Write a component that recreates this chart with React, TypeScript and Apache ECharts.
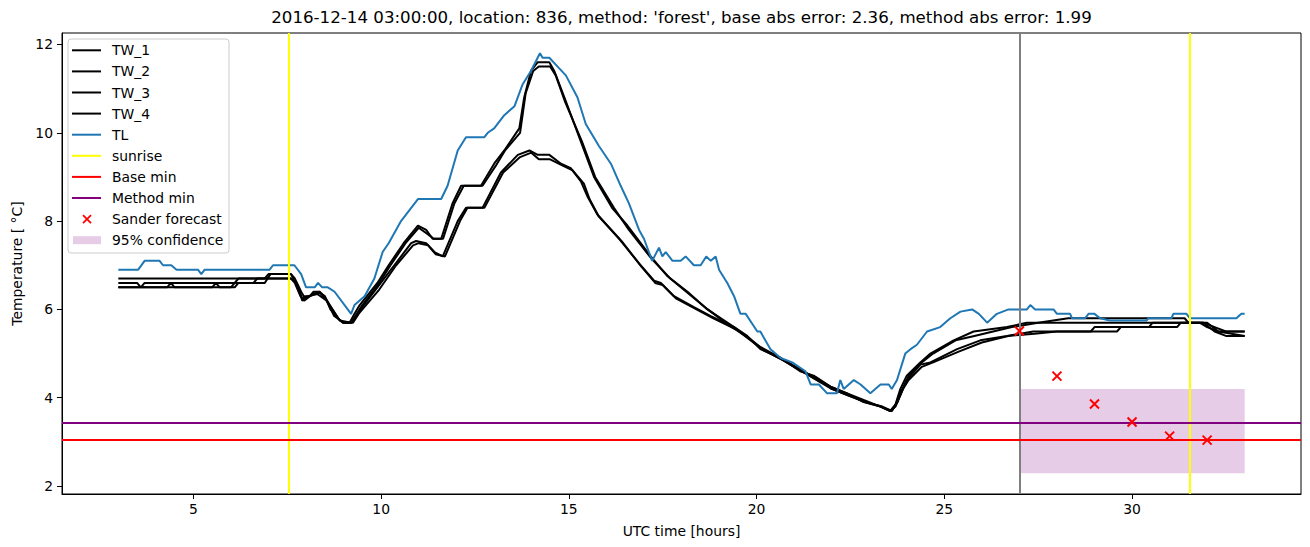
import React, { useEffect, useRef } from "react";
import * as echarts from "echarts";

// ---------- data (hours UTC, temperature °C) ----------
const TL: [number, number][] = [
  [3.0, 6.9], [3.53, 6.9], [3.7, 7.1], [4.1, 7.1], [4.19, 7.0], [4.41, 7.0], [4.55, 6.9], [5.12, 6.9], [5.21, 6.8], [5.3, 6.9],
  [7.03, 6.9], [7.12, 7.0], [7.69, 7.0], [7.87, 6.8], [8.0, 6.5], [8.23, 6.5], [8.32, 6.6], [8.43, 6.5], [8.58, 6.5], [8.76, 6.4],
  [9.2, 5.9], [9.29, 6.1], [9.56, 6.3], [9.82, 6.7], [10.04, 7.3], [10.2, 7.5], [10.53, 8.0], [10.98, 8.5], [11.6, 8.5], [11.77, 8.8],
  [12.04, 9.6], [12.26, 9.9], [12.75, 9.9], [12.84, 10.0], [13.01, 10.1], [13.28, 10.4], [13.55, 10.6], [13.77, 11.1], [13.99, 11.4],
  [14.23, 11.8], [14.3, 11.7], [14.48, 11.7], [14.7, 11.5], [14.92, 11.3], [15.23, 10.8], [15.45, 10.2], [15.8, 9.7], [16.12, 9.3],
  [16.38, 8.8], [16.6, 8.4], [16.87, 7.8], [17.0, 7.6], [17.22, 7.1], [17.4, 7.4], [17.49, 7.2], [17.58, 7.3], [17.76, 7.1], [17.98, 7.1],
  [18.11, 7.2], [18.33, 7.0], [18.51, 7.0], [18.66, 7.2], [18.78, 7.1], [18.91, 7.2], [19.0, 6.9], [19.22, 6.6], [19.4, 6.3], [19.57, 5.9],
  [19.71, 5.9], [20.02, 5.5], [20.1, 5.5], [20.37, 5.1], [20.64, 4.9], [20.95, 4.8], [21.3, 4.6], [21.44, 4.3], [21.66, 4.3], [21.88, 4.1],
  [22.14, 4.1], [22.23, 4.4], [22.32, 4.2], [22.59, 4.4], [22.77, 4.3], [23.03, 4.1], [23.3, 4.3], [23.52, 4.3], [23.6, 4.2], [23.74, 4.4],
  [23.96, 5.0], [24.1, 5.1], [24.27, 5.2], [24.54, 5.5], [24.89, 5.6], [25.16, 5.8], [25.43, 5.95], [25.74, 6.0], [25.92, 5.9], [26.14, 5.7],
  [26.4, 5.9], [26.71, 6.0], [27.2, 6.0], [27.29, 6.1], [27.42, 6.0], [27.91, 6.0], [28.0, 5.9], [28.35, 5.9], [28.4, 5.8], [28.75, 5.8],
  [28.84, 5.9], [29.0, 5.9], [29.15, 5.8], [29.41, 5.75], [30.39, 5.75], [30.43, 5.8], [31.05, 5.8], [31.1, 5.9], [31.45, 5.9], [31.54, 5.8],
  [32.78, 5.8], [32.91, 5.9], [33.0, 5.9],
];

const TW_1: [number, number][] = [
  [3, 6.7], [6.9, 6.7], [7.0, 6.8], [7.6, 6.8], [7.7, 6.7], [7.87, 6.4], [7.94, 6.3], [8.1, 6.3], [8.2, 6.4], [8.36, 6.4], [8.49, 6.3],
  [8.63, 6.1], [8.85, 5.8], [8.98, 5.7], [9.16, 5.7], [9.29, 5.9], [9.43, 6.1], [9.9, 6.6], [10.2, 7.0], [10.6, 7.5], [10.98, 7.9],
  [11.2, 7.8], [11.37, 7.6], [11.6, 7.6], [11.9, 8.4], [12.13, 8.8], [12.66, 8.8], [13.01, 9.3], [13.28, 9.6], [13.68, 10.1], [13.81, 10.8],
  [13.99, 11.4], [14.17, 11.6], [14.48, 11.6], [14.61, 11.4], [14.88, 10.8], [15.32, 9.8], [15.67, 9.0], [16.15, 8.3], [16.56, 7.9],
  [17.18, 7.2], [17.63, 6.75], [18.16, 6.4], [18.69, 6.0], [19.22, 5.7], [19.75, 5.4], [20.1, 5.1], [20.64, 4.9], [21.16, 4.6], [21.52, 4.5],
  [21.97, 4.25], [22.41, 4.1], [22.85, 3.95], [23.3, 3.8], [23.56, 3.7], [23.7, 3.85], [23.83, 4.2], [24.0, 4.5], [24.36, 4.8], [24.63, 5.0],
  [25.25, 5.3], [25.78, 5.5], [26.67, 5.6], [27.2, 5.7], [31.8, 5.7], [32.0, 5.6], [32.3, 5.5], [33, 5.5],
];

const TW_2: [number, number][] = [
  [3, 6.6], [3.5, 6.6], [3.6, 6.5], [3.7, 6.6], [6.1, 6.6], [6.2, 6.7], [7.6, 6.7], [7.75, 6.6], [7.9, 6.2], [8.1, 6.3], [8.36, 6.4],
  [8.55, 6.2], [8.9, 5.75], [9.2, 5.7], [9.35, 5.9], [9.5, 6.1], [9.95, 6.6], [10.25, 7.0], [10.65, 7.5], [11.0, 7.85], [11.25, 7.7],
  [11.4, 7.6], [11.65, 7.6], [11.95, 8.4], [12.2, 8.8], [12.7, 8.8], [13.05, 9.25], [13.3, 9.6], [13.7, 10.0], [13.85, 10.9], [14.05, 11.4],
  [14.2, 11.5], [14.5, 11.5], [14.65, 11.3], [14.9, 10.7], [15.35, 9.8], [15.7, 9.0], [16.2, 8.3], [16.6, 7.8], [17.2, 7.15], [17.7, 6.7],
  [18.2, 6.35], [18.7, 6.0], [19.25, 5.65], [19.8, 5.35], [20.15, 5.1], [20.7, 4.85], [21.2, 4.6], [21.6, 4.45], [22.0, 4.2], [22.45, 4.05],
  [22.9, 3.9], [23.3, 3.8], [23.6, 3.7], [23.75, 3.9], [23.9, 4.2], [24.05, 4.5], [24.4, 4.8], [24.7, 5.0], [25.3, 5.3], [25.8, 5.4],
  [26.3, 5.5], [26.8, 5.6], [27.5, 5.7], [28.3, 5.8], [31.4, 5.8], [31.5, 5.7], [32.0, 5.7], [32.3, 5.5], [33, 5.4],
];

const TW_3: [number, number][] = [
  [3, 6.5], [5.5, 6.5], [5.6, 6.6], [5.7, 6.5], [6.1, 6.5], [6.2, 6.6], [6.6, 6.6], [6.7, 6.7], [7.6, 6.7], [7.7, 6.6], [7.85, 6.3],
  [7.95, 6.2], [8.1, 6.3], [8.3, 6.4], [8.5, 6.3], [8.65, 6.0], [8.9, 5.75], [9.0, 5.7], [9.2, 5.7], [9.35, 5.85], [9.45, 6.0], [9.9, 6.5],
  [10.35, 7.0], [10.8, 7.5], [10.93, 7.55], [11.2, 7.5], [11.42, 7.3], [11.64, 7.2], [12.04, 8.0], [12.26, 8.3], [12.7, 8.3], [13.19, 9.1],
  [13.64, 9.5], [13.95, 9.6], [14.17, 9.5], [14.48, 9.5], [14.79, 9.3], [15.05, 9.2], [15.32, 8.9], [15.5, 8.55], [15.76, 8.15], [16.34, 7.6],
  [16.91, 7.0], [17.27, 6.65], [17.45, 6.6], [17.8, 6.3], [18.33, 6.05], [18.78, 5.85], [19.4, 5.6], [20.1, 5.15], [20.64, 4.9], [21.16, 4.65],
  [21.52, 4.45], [21.97, 4.25], [22.41, 4.1], [22.85, 3.9], [23.3, 3.8], [23.56, 3.7], [23.7, 3.8], [23.85, 4.15], [24.0, 4.4], [24.36, 4.75],
  [24.63, 4.8], [25.34, 5.1], [25.96, 5.3], [26.67, 5.4], [27.37, 5.5], [28.9, 5.5], [29.0, 5.6], [30.45, 5.6], [30.55, 5.7], [31.9, 5.7],
  [32.2, 5.6], [32.5, 5.5], [33, 5.5],
];

const TW_4: [number, number][] = [
  [3, 6.5], [4.3, 6.5], [4.4, 6.6], [4.5, 6.5], [6.0, 6.5], [6.1, 6.6], [6.9, 6.6], [7.05, 6.8], [7.6, 6.8], [7.72, 6.6], [7.9, 6.25],
  [8.05, 6.3], [8.3, 6.35], [8.55, 6.2], [8.75, 5.85], [9.0, 5.7], [9.25, 5.7], [9.4, 5.9], [9.5, 6.0], [9.95, 6.45], [10.4, 7.0],
  [10.85, 7.45], [11.0, 7.5], [11.25, 7.45], [11.45, 7.25], [11.7, 7.2], [12.1, 8.0], [12.3, 8.3], [12.75, 8.3], [13.25, 9.1], [13.7, 9.45],
  [14.0, 9.55], [14.2, 9.4], [14.5, 9.4], [14.85, 9.25], [15.1, 9.15], [15.4, 8.85], [15.55, 8.5], [15.8, 8.1], [16.4, 7.55], [16.95, 6.95],
  [17.3, 6.6], [17.5, 6.55], [17.85, 6.25], [18.4, 6.0], [18.85, 5.8], [19.45, 5.55], [20.15, 5.1], [20.7, 4.85], [21.2, 4.6], [21.6, 4.4],
  [22.0, 4.2], [22.45, 4.05], [22.9, 3.9], [23.35, 3.8], [23.6, 3.7], [23.75, 3.9], [23.9, 4.2], [24.05, 4.4], [24.4, 4.7], [24.7, 4.8],
  [25.4, 5.05], [26.0, 5.25], [26.7, 5.4], [27.4, 5.45], [28.0, 5.5], [29.6, 5.5], [29.7, 5.6], [31.2, 5.6], [31.3, 5.7], [31.9, 5.7],
  [32.2, 5.5], [32.5, 5.4], [33, 5.4],
];

const sunriseHours = [7.55, 31.55];
const forecastStartHour = 27.0;
const baseMin = 3.04;
const methodMin = 3.43;
const forecastHours = [27, 28, 29, 30, 31, 32];
const forecastTemps = [5.51, 4.49, 3.86, 3.45, 3.13, 3.04];
const confidenceHours = [27.0, 33.0];
const confidenceTemps = [2.29, 4.2];

const xTicks = [5, 10, 15, 20, 25, 30];
const yTicks = [2, 4, 6, 8, 10, 12];

const titleText =
  "2016-12-14 03:00:00, location: 836, method: 'forest', base abs error: 2.36, method abs error: 1.99";

const FONT = "DejaVu Sans";

const legendItems: { label: string; kind: string; color: string }[] = [
  { label: "TW_1", kind: "line", color: "#000000" },
  { label: "TW_2", kind: "line", color: "#000000" },
  { label: "TW_3", kind: "line", color: "#000000" },
  { label: "TW_4", kind: "line", color: "#000000" },
  { label: "TL", kind: "line", color: "#1f77b4" },
  { label: "sunrise", kind: "line", color: "#ffff00" },
  { label: "Base min", kind: "line", color: "#ff0000" },
  { label: "Method min", kind: "line", color: "#800080" },
  { label: "Sander forecast", kind: "cross", color: "#ff0000" },
  { label: "95% confidence", kind: "patch", color: "rgba(128,0,128,0.2)" },
];

function buildLegend() {
  const children: any[] = [];
  const bx = 68, by = 39, bw = 161, bh = 214;
  children.push({
    type: "rect",
    shape: { x: bx, y: by, width: bw, height: bh, r: 3 },
    style: { fill: "rgba(255,255,255,0.8)", stroke: "#cccccc", lineWidth: 1 },
  });
  legendItems.forEach((it, i) => {
    const cy = 50.3 + i * 21.1;
    if (it.kind === "line") {
      children.push({
        type: "line",
        shape: { x1: 72, y1: cy, x2: 101, y2: cy },
        style: { stroke: it.color, lineWidth: 2 },
      });
    } else if (it.kind === "cross") {
      const cx = 87, s = 4;
      children.push({ type: "line", shape: { x1: cx - s, y1: cy - s, x2: cx + s, y2: cy + s }, style: { stroke: it.color, lineWidth: 1.8 } });
      children.push({ type: "line", shape: { x1: cx - s, y1: cy + s, x2: cx + s, y2: cy - s }, style: { stroke: it.color, lineWidth: 1.8 } });
    } else {
      children.push({
        type: "rect",
        shape: { x: 73, y: cy - 4, width: 28, height: 8 },
        style: { fill: it.color },
      });
    }
    children.push({
      type: "text",
      x: 112,
      y: cy,
      style: { text: it.label, font: `13.9px "${FONT}"`, fill: "#000", verticalAlign: "middle", textAlign: "left" },
    });
  });
  return { type: "group", z: 100, children };
}

export default function App() {
  const ref = useRef<HTMLDivElement>(null);
  useEffect(() => {
    if (!ref.current) return;
    const chart = echarts.init(ref.current, null, { renderer: "svg" });
    const twLine = (name: string, data: [number, number][]) => ({
      name,
      type: "line",
      data,
      showSymbol: false,
      symbol: "none",
      z: 2,
      lineStyle: { color: "#000000", width: 2 },
    });
    const option: any = {
      animation: false,
      backgroundColor: "#ffffff",
      textStyle: { fontFamily: FONT },
      grid: { left: 62, right: 9, top: 33, bottom: 53, show: true, borderColor: "#000", borderWidth: 1, backgroundColor: "transparent" },
      xAxis: {
        type: "value",
        min: 1.5,
        max: 34.5,
        name: "UTC time [hours]",
        nameLocation: "middle",
        nameGap: 30,
        nameTextStyle: { color: "#000", fontSize: 13.9, fontFamily: FONT },
        axisLine: { show: true, lineStyle: { color: "#000", width: 1 } },
        axisTick: { show: true, length: 5, customValues: xTicks, lineStyle: { color: "#000" } },
        axisLabel: { customValues: xTicks, color: "#000", fontSize: 13.9, fontFamily: FONT, margin: 8 },
        splitLine: { show: false },
      },
      yAxis: {
        type: "value",
        min: 1.82,
        max: 12.26,
        name: "Temperature [ °C]",
        nameLocation: "middle",
        nameGap: 36,
        nameTextStyle: { color: "#000", fontSize: 13.9, fontFamily: FONT },
        axisLine: { show: true, lineStyle: { color: "#000", width: 1 } },
        axisTick: { show: true, length: 5, customValues: yTicks, lineStyle: { color: "#000" } },
        axisLabel: { customValues: yTicks, color: "#000", fontSize: 13.9, fontFamily: FONT, margin: 9 },
        splitLine: { show: false },
      },
      series: [
        {
          name: "confidence",
          type: "line",
          data: [],
          z: 1,
          markArea: {
            silent: true,
            itemStyle: { color: "rgba(128,0,128,0.2)" },
            data: [[
              { xAxis: confidenceHours[0], yAxis: confidenceTemps[0] },
              { xAxis: confidenceHours[1], yAxis: confidenceTemps[1] },
            ]],
          },
        },
        twLine("TW_1", TW_1),
        twLine("TW_2", TW_2),
        twLine("TW_3", TW_3),
        twLine("TW_4", TW_4),
        {
          name: "TL",
          type: "line",
          data: TL,
          showSymbol: false,
          symbol: "none",
          z: 3,
          lineStyle: { color: "#1f77b4", width: 2 },
        },
        {
          name: "refs",
          type: "line",
          data: [],
          z: 4,
          markLine: {
            silent: true,
            symbol: "none",
            label: { show: false },
            emphasis: { disabled: true },
            data: [
              ...sunriseHours.map((h) => ({ xAxis: h, lineStyle: { color: "#ffff00", width: 2, type: "solid" } })),
              { xAxis: forecastStartHour, lineStyle: { color: "#808080", width: 2, type: "solid" } },
              { yAxis: baseMin, lineStyle: { color: "#ff0000", width: 2, type: "solid" } },
              { yAxis: methodMin, lineStyle: { color: "#800080", width: 2, type: "solid" } },
            ],
          },
        },
        {
          name: "Sander forecast",
          type: "scatter",
          z: 5,
          data: forecastHours.map((h, i) => [h, forecastTemps[i]]),
          symbol: "path://M0,0L10,10M10,0L0,10",
          symbolSize: 9,
          itemStyle: { color: "rgba(0,0,0,0)", borderColor: "#ff0000", borderWidth: 2, opacity: 1 },
        },
      ],
      graphic: [
        {
          type: "text",
          x: 681.5,
          y: 17,
          z: 100,
          style: { text: titleText, font: `16.67px "${FONT}"`, fill: "#000", textAlign: "center", verticalAlign: "middle" },
        },
        buildLegend(),
      ],
    };
    chart.setOption(option);
    return () => chart.dispose();
  }, []);
  return <div ref={ref} style={{ position: "absolute", left: 0, top: 0, width: 1310, height: 547 }} />;
}
